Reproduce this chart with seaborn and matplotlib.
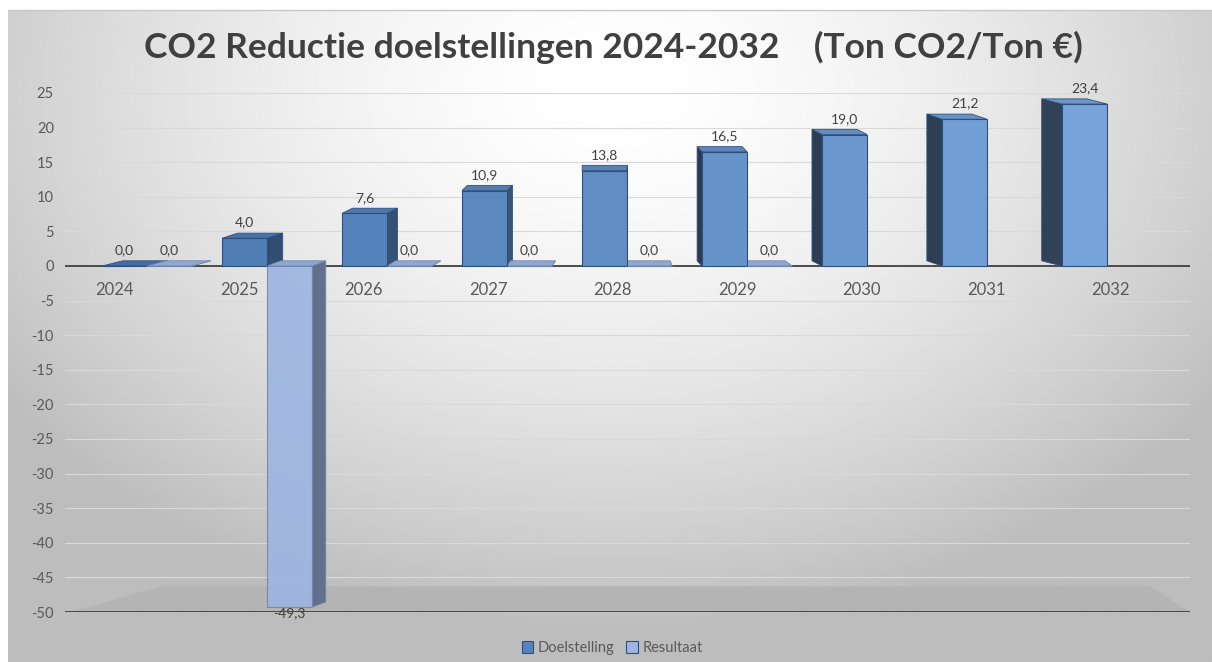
import numpy as np
import pandas as pd
import matplotlib
matplotlib.use("Agg")
import matplotlib.pyplot as plt
import matplotlib.colors as mcolors
import matplotlib.transforms as mtransforms
from matplotlib.patches import Polygon
import seaborn as sns

# ---------------- data ----------------
years = ["2024", "2025", "2026", "2027", "2028", "2029", "2030", "2031", "2032"]
doelstelling = [0.0, 4.0, 7.6, 10.9, 13.8, 16.5, 19.0, 21.2, 23.4]
resultaat = [0.0, -49.3, 0.0, 0.0, 0.0, 0.0, np.nan, np.nan, np.nan]
series_names = ["Doelstelling", "Resultaat"]
y_ticks = list(range(-50, 30, 5))
title = "CO2 Reductie doelstellingen 2024-2032    (Ton CO2/Ton \u20ac)"

df = pd.DataFrame({
    "Jaar": years * 2,
    "Serie": [series_names[0]] * len(years) + [series_names[1]] * len(years),
    "Waarde": doelstelling + resultaat,
})

# ---------------- style ----------------
sns.set_theme(style="white")
plt.rcParams["font.family"] = ["Lato", "DejaVu Sans"]
TXT = "#595959"
colors = {"Doelstelling": "#5683BF", "Resultaat": "#9DB5E0"}
edges = {"Doelstelling": "#2F4F7A", "Resultaat": "#6F87B0"}
light_dark = np.array(mcolors.to_rgb("#4A78B0"))
light_bright = np.array(mcolors.to_rgb("#77A5DB"))

fig = plt.figure(figsize=(12.12, 6.62), dpi=100)
fig.patch.set_facecolor("white")

# background gradient (chart area)
bg = fig.add_axes([8 / 1212, 0, 1 - 8 / 1212, 652 / 662])
h, w = 300, 600
yy, xx = np.mgrid[0:h, 0:w]
r = np.sqrt(((xx - 0.5 * w) / w) ** 2 + 0.55 * ((yy - 0.12 * h) / h) ** 2)
img = 1 - 0.26 * np.clip(r / 0.62, 0, 1) ** 1.6
bg.imshow(img, cmap="gray", vmin=0, vmax=1, aspect="auto", interpolation="bilinear")
bg.axis("off")
fig.add_artist(plt.Line2D([8 / 1212, 1], [652 / 662, 652 / 662], color="#c8c8c8", lw=1,
                          transform=fig.transFigure))

ax = fig.add_axes([65 / 1212, 1 - 612 / 662, 1125 / 1212, (612 - 93) / 662])
ax.patch.set_alpha(0)

sns.barplot(data=df, x="Jaar", y="Waarde", hue="Serie", hue_order=series_names,
            palette=[colors[s] for s in series_names], saturation=1, width=0.75,
            ax=ax, legend=True, linewidth=0.8, edgecolor="#2F4F7A")

ax.set_xlim(-0.683, 8.69)
ax.set_ylim(-50, 25)
ax.set_yticks(y_ticks)
ax.set_yticklabels([str(t) for t in y_ticks], color=TXT, fontsize=10.5)
ax.tick_params(axis="y", length=0, pad=8)
ax.tick_params(axis="x", length=0, labelbottom=False)
ax.set_xlabel("")
ax.set_ylabel("")
for s in ax.spines.values():
    s.set_visible(False)
ax.yaxis.grid(True, color="#d9d9d9", lw=0.8)
ax.set_axisbelow(True)

# floor of the 3D chart
blend = mtransforms.blended_transform_factory(ax.transAxes, ax.transData)
ax.add_patch(Polygon([(0.005, -50), (0.085, -46.3), (0.965, -46.3), (1.0, -50)],
                     closed=True, transform=blend, facecolor="#b4b4b4", edgecolor="none",
                     zorder=0.6))
ax.axhline(0, color="#404040", lw=1.3, zorder=0.7)
ax.axhline(-50, color="#404040", lw=1.3, zorder=0.7)

# pseudo-3D faces derived from the bar patches
vp, k, dy = 3.85, 0.043, 0.75
for ci, cont in enumerate(ax.containers):
    name = series_names[ci]
    for p in cont:
        x, wd = p.get_x(), p.get_width()
        y0, hh = p.get_y(), p.get_height()
        xc = x + wd / 2
        if name == "Doelstelling":
            f = np.clip(xc / 8.0, 0, 1)
            base = light_dark * (1 - f) + light_bright * f
            p.set_facecolor(tuple(base))
        else:
            base = np.array(mcolors.to_rgb(colors[name]))
            p.set_alpha(0.92)
        p.set_edgecolor(edges[name])
        p.set_zorder(3)
        top, bot = max(y0, y0 + hh), min(y0, y0 + hh)
        dx = k * (vp - xc)
        if dx >= 0:
            sx = x + wd
            side = tuple(base * 0.62)
        else:
            sx = x
            side = tuple(base * 0.40)
        topc = tuple(np.clip(base * 0.92, 0, 1))
        ax.add_patch(Polygon([(sx, bot), (sx + dx, bot + dy), (sx + dx, top + dy), (sx, top)],
                             closed=True, facecolor=side, edgecolor=edges[name], lw=0.6,
                             zorder=2))
        ax.add_patch(Polygon([(x, top), (x + wd, top), (x + wd + dx, top + dy), (x + dx, top + dy)],
                             closed=True, facecolor=topc, edgecolor=edges[name], lw=0.6,
                             zorder=2))

# data labels
for ci, cont in enumerate(ax.containers):
    labs = [f"{v:.1f}".replace(".", ",") for v in cont.datavalues]
    texts = ax.bar_label(cont, labels=labs, padding=7, color="#404040", fontsize=10, zorder=5)
    for t, v in zip(texts, cont.datavalues):
        if v < 0:
            t.xyann = (0, 0)

# category labels in front of the zero line
for t, lab in zip(ax.get_xticks(), years):
    xl = 4 + (t - 4) * 1.037 - 0.12
    ax.annotate(lab, xy=(xl, 0), xytext=(0, -17), textcoords="offset points",
                ha="center", va="center", fontsize=12, color=TXT)

# legend
handles, labels = ax.get_legend_handles_labels()
ax.legend_.remove()
fig.legend(handles, labels, loc="center", bbox_to_anchor=(0.505, 14 / 662),
           ncol=2, frameon=False, fontsize=10.5, handlelength=0.8, handleheight=0.8,
           handletextpad=0.3, columnspacing=0.8, labelcolor=TXT)

fig.text(613 / 1212, 1 - 47 / 662, title, ha="center", va="center", fontsize=25.5,
         fontweight="bold", color="#404040")

fig.savefig("out.png", dpi=100)
